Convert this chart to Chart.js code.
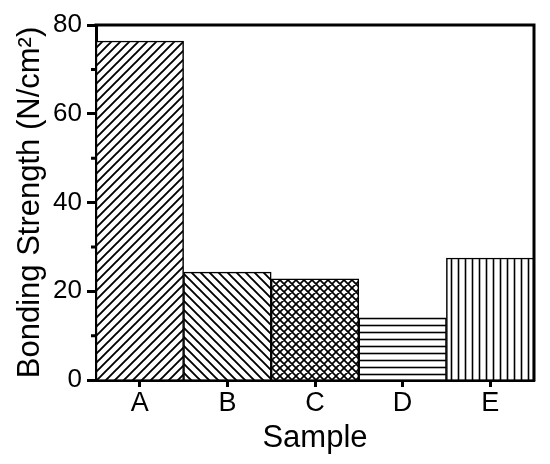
<!DOCTYPE html>
<html>
<head>
<meta charset="utf-8">
<script src="https://cdn.jsdelivr.net/npm/chart.js@4"></script>
<style>
  html, body { margin: 0; padding: 0; background: #fff; }
  #wrap { width: 550px; height: 464px; }
</style>
</head>
<body>
<div id="wrap"><canvas id="chart" width="550" height="464"></canvas></div>
<script>
const categories = ['A', 'B', 'C', 'D', 'E'];
const strength = [76.4, 24.3, 22.8, 14.0, 27.5];
const yTicks = [0, 20, 40, 60, 80];
const minorTicks = [10, 30, 50, 70];
const hatchKinds = ['fdiag', 'bdiag', 'cross', 'horiz', 'vert'];

// small tile canvases turned into fill patterns
function makeHatch(kind) {
  const size = kind === 'horiz' || kind === 'vert' ? 7 : kind === 'cross' ? 8 : 9;
  const c = document.createElement('canvas');
  c.width = size; c.height = size;
  const g = c.getContext('2d');
  g.fillStyle = '#fff';
  g.fillRect(0, 0, size, size);
  g.strokeStyle = '#000';
  g.lineWidth = kind === 'cross' ? 1.7 : kind === 'horiz' || kind === 'vert' ? 1.6 : 1.9;
  g.beginPath();
  if (kind === 'fdiag' || kind === 'cross') {
    g.moveTo(-1, size + 1); g.lineTo(size + 1, -1);
    g.moveTo(-2, 2); g.lineTo(2, -2);
    g.moveTo(size - 2, size + 2); g.lineTo(size + 2, size - 2);
  }
  if (kind === 'bdiag' || kind === 'cross') {
    g.moveTo(-1, -1); g.lineTo(size + 1, size + 1);
    g.moveTo(size - 2, -2); g.lineTo(size + 2, 2);
    g.moveTo(-2, size - 2); g.lineTo(2, size + 2);
  }
  if (kind === 'horiz') { g.moveTo(0, size / 2); g.lineTo(size, size / 2); }
  if (kind === 'vert') { g.moveTo(size / 2, 0); g.lineTo(size / 2, size); }
  g.stroke();
  return g.createPattern(c, 'repeat');
}

const frame = {
  id: 'frame',
  afterDraw(chart) {
    const { ctx, chartArea, scales } = chart;
    ctx.save();
    ctx.strokeStyle = '#000';
    ctx.lineWidth = 3;
    ctx.beginPath();
    ctx.moveTo(chartArea.left - 1.5, chartArea.top);
    ctx.lineTo(chartArea.right, chartArea.top);
    ctx.lineTo(chartArea.right, chartArea.bottom + 1.5);
    ctx.stroke();
    ctx.beginPath();
    minorTicks.forEach(v => {
      const py = scales.y.getPixelForValue(v);
      ctx.moveTo(chartArea.left, py);
      ctx.lineTo(chartArea.left - 5, py);
    });
    ctx.stroke();
    ctx.restore();
  }
};

const font = 'Liberation Sans, Arial, sans-serif';

new Chart(document.getElementById('chart'), {
  type: 'bar',
  data: {
    labels: categories,
    datasets: [{
      data: strength,
      backgroundColor: hatchKinds.map(makeHatch),
      borderColor: '#000',
      borderWidth: 1.5,
      barPercentage: 1,
      categoryPercentage: 1
    }]
  },
  options: {
    responsive: false,
    animation: false,
    layout: { padding: { top: 25, right: 16, left: 0, bottom: 0 } },
    plugins: { legend: { display: false }, tooltip: { enabled: false } },
    scales: {
      x: {
        afterFit: s => { s.height = 84; },
        border: { display: true, color: '#000', width: 3 },
        grid: { drawOnChartArea: false, tickLength: 7, tickWidth: 3, tickColor: '#000', offset: false },
        ticks: { color: '#000', padding: 0, font: { family: font, size: 27 } },
        title: { display: true, text: 'Sample', color: '#000', padding: { top: 0, bottom: 7 }, font: { family: font, size: 31 } }
      },
      y: {
        min: 0,
        max: 80,
        afterFit: s => { s.width = 96; },
        afterBuildTicks: s => { s.ticks = yTicks.map(v => ({ value: v })); },
        border: { display: true, color: '#000', width: 3 },
        grid: { drawOnChartArea: false, tickLength: 9, tickWidth: 3, tickColor: '#000' },
        ticks: { color: '#000', padding: 5, font: { family: font, size: 26 } },
        title: { display: true, text: 'Bonding Strength (N/cm²)', color: '#000', padding: { top: 12, bottom: 0 }, font: { family: font, size: 31 } }
      }
    }
  },
  plugins: [frame]
});
</script>
</body>
</html>
